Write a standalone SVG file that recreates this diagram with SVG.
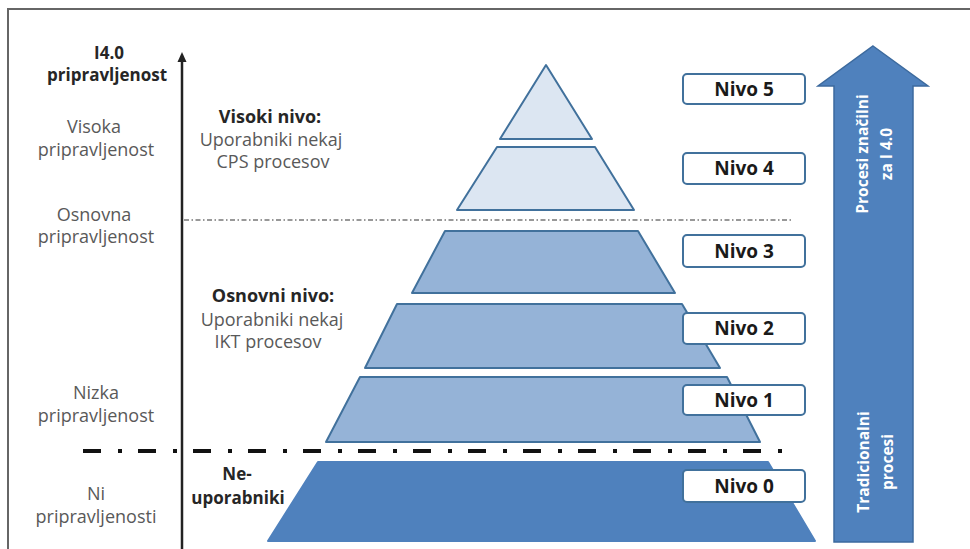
<svg xmlns="http://www.w3.org/2000/svg" width="970" height="549" viewBox="0 0 970 549">
<style>
.t{font-family:"Open Sans","Liberation Sans",sans-serif;font-size:18px;fill:#595959;text-anchor:middle}
.b{font-family:"Open Sans","Liberation Sans",sans-serif;font-size:18px;font-weight:bold;fill:#262626;text-anchor:middle}
.lt{fill:#dce6f2;stroke:#41719c;stroke-width:2;stroke-linejoin:round}
.md{fill:#95b3d7;stroke:#41719c;stroke-width:2;stroke-linejoin:round}
.dk{fill:#4f81bd;stroke:#4f81bd;stroke-width:2;stroke-linejoin:round}
.box{fill:#ffffff;stroke:#41719c;stroke-width:2}
.bl{font-family:"Open Sans","Liberation Sans",sans-serif;font-size:19px;font-weight:bold;fill:#1a1a1a;text-anchor:middle}
.w{font-family:"Open Sans","Liberation Sans",sans-serif;font-size:15.5px;font-weight:bold;fill:#ffffff;text-anchor:middle}
</style>
<rect x="0" y="0" width="970" height="549" fill="#ffffff"/>
<rect x="8" y="9" width="990" height="580" fill="none" stroke="#666666" stroke-width="2"/>

<g id="connectors">
<line x1="182" y1="60" x2="182" y2="549" stroke="#222222" stroke-width="2.5"/>
<polygon points="182,52 186.5,62 177.5,62" fill="#222222"/>
<line x1="184" y1="220" x2="792" y2="220" stroke="#777777" stroke-width="1.5" stroke-dasharray="5 2.5 1.5 2.5"/>
<line x1="83" y1="451" x2="786" y2="451" stroke="#111111" stroke-width="4" stroke-dasharray="18 17 4 16"/>
</g>

<g id="axis-labels">
<text class="b" style="font-size:17px" x="109" y="59">I4.0</text>
<text class="b" style="font-size:17px" x="107" y="81">pripravljenost</text>
<text class="t" x="94" y="133">Visoka</text>
<text class="t" x="96" y="156">pripravljenost</text>
<text class="t" x="94" y="221">Osnovna</text>
<text class="t" x="96" y="243">pripravljenost</text>
<text class="t" x="96" y="399">Nizka</text>
<text class="t" x="96" y="422">pripravljenost</text>
<text class="t" x="96" y="500">Ni</text>
<text class="t" x="96" y="523">pripravljenosti</text>
</g>

<g id="group-labels">
<text class="b" x="270" y="123">Visoki nivo:</text>
<text class="t" x="271" y="146">Uporabniki nekaj</text>
<text class="t" x="273" y="168">CPS procesov</text>
<text class="b" x="273" y="302">Osnovni nivo:</text>
<text class="t" x="272" y="326">Uporabniki nekaj</text>
<text class="t" x="268" y="348">IKT procesov</text>
<text class="b" style="font-size:17px" x="237" y="480">Ne-</text>
<text class="b" style="font-size:17px" x="238" y="504">uporabniki</text>
</g>

<g id="layer5"><polygon class="lt" points="546,65 592,139 500,139"/></g>
<g id="layer4"><polygon class="lt" points="497,147 595,147 634,210 457,210"/></g>
<g id="layer3"><polygon class="md" points="445,231 638,231 675,293 412,293"/></g>
<g id="layer2"><polygon class="md" points="397,304 682,304 720,368 365,368"/></g>
<g id="layer1"><polygon class="md" points="360,377 727,377 760,442 326,442"/></g>
<g id="layer0"><polygon class="dk" points="318,462 768,462 815,541 268,541"/></g>

<g id="nivo5"><rect class="box" x="683" y="74" width="122" height="30" rx="4"/><text class="bl" x="744" y="96">Nivo 5</text></g>
<g id="nivo4"><rect class="box" x="683" y="153" width="122" height="31" rx="4"/><text class="bl" x="744" y="175">Nivo 4</text></g>
<g id="nivo3"><rect class="box" x="683" y="235" width="122" height="32" rx="4"/><text class="bl" x="744" y="258">Nivo 3</text></g>
<g id="nivo2"><rect class="box" x="683" y="313" width="122" height="31" rx="4"/><text class="bl" x="744" y="335">Nivo 2</text></g>
<g id="nivo1"><rect class="box" x="683" y="385" width="122" height="30" rx="4"/><text class="bl" x="744" y="407">Nivo 1</text></g>
<g id="nivo0"><rect class="box" x="683" y="470" width="122" height="32" rx="4"/><text class="bl" x="744" y="493">Nivo 0</text></g>

<g id="process-arrow">
<polygon points="873,46 928,86 913,86 913,542 834,542 834,86 818,86" fill="#4f81bd" stroke="#3c6a9e" stroke-width="1.5" stroke-linejoin="miter"/>
<text class="w" transform="translate(0,154) rotate(-90)"><tspan x="0" y="868">Procesi značilni</tspan><tspan x="0" y="892">za I 4.0</tspan></text>
<text class="w" transform="translate(0,462) rotate(-90)"><tspan x="0" y="869">Tradicionalni</tspan><tspan x="0" y="893">procesi</tspan></text>
</g>
</svg>
